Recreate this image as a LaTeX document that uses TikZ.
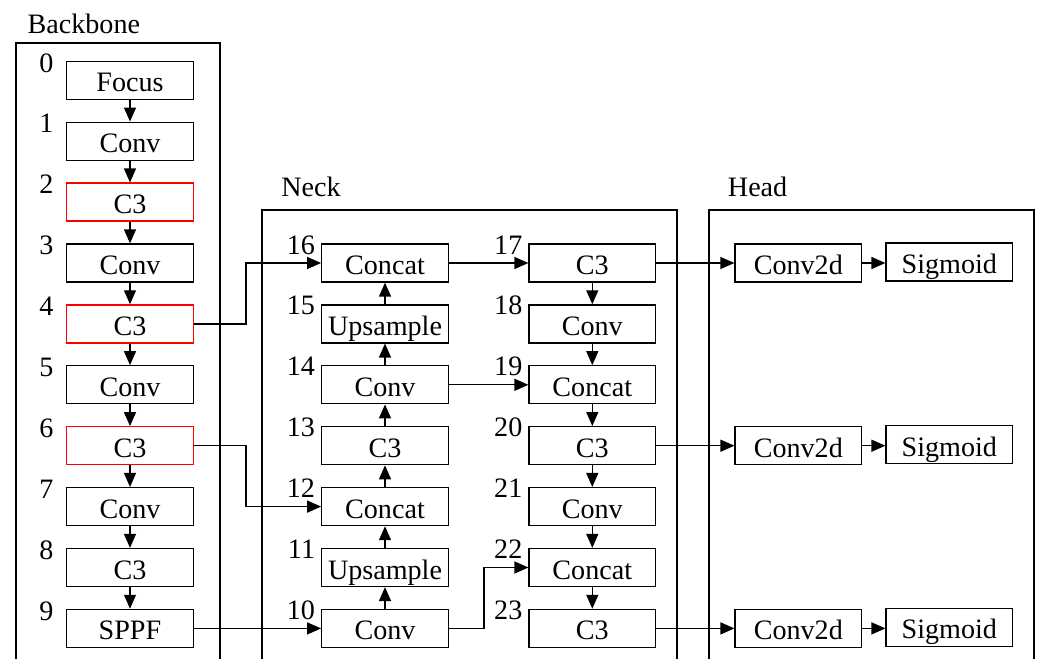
\documentclass[tikz,border=0pt]{standalone}
\usepackage{fontspec}
\setmainfont{Liberation Serif}
\usetikzlibrary{arrows.meta}
\begin{document}
\begin{tikzpicture}[x=0.02cm, y=-0.02cm, line width=0.74pt,
  blk/.style={draw, minimum width=2.53cm, minimum height=0.76cm, inner sep=0pt,
    text height=13.1pt, text depth=0pt, font=\fontsize{16}{19}\selectfont},
  redblk/.style={blk, draw=red},
  num/.style={anchor=base east, inner sep=0pt, font=\fontsize{16}{19}\selectfont},
  title/.style={anchor=base west, inner sep=0pt, font=\fontsize{16}{19}\selectfont},
  frame/.style={line width=1.3pt},
  arr/.style={-{Triangle[length=0.28cm, width=0.24cm]}}]
  \useasboundingbox (0,0) rectangle (1038,659);
  \draw[frame] (16,662) -- (16,43) -- (220,43) -- (220,662);
  \draw[frame] (262.3,662) -- (262.3,210) -- (676.7,210) -- (676.7,662);
  \draw[frame] (709.3,662) -- (709.3,210) -- (1034.3,210) -- (1034.3,662);
  \node[title] (tb) at (27,33) {Backbone};
  \node[title] (tn) at (280.7,196.7) {Neck};
  \node[title] (th) at (727.3,196.7) {Head};
  \node[blk] (b0) at (130,80.3) {Focus};
  \node[blk] (b1) at (130,141.2) {Conv};
  \node[redblk] (b2) at (130,202.1) {C3};
  \node[blk] (b3) at (130,263.0) {Conv};
  \node[redblk] (b4) at (130,323.9) {C3};
  \node[blk] (b5) at (130,384.8) {Conv};
  \node[redblk] (b6) at (130,445.7) {C3};
  \node[blk] (b7) at (130,506.6) {Conv};
  \node[blk] (b8) at (130,567.5) {C3};
  \node[blk] (b9) at (130,628.4) {SPPF};
  \node[num] (l0) at (54,72.0) {0};
  \node[num] (l1) at (54,132.9) {1};
  \node[num] (l2) at (54,193.8) {2};
  \node[num] (l3) at (54,254.7) {3};
  \node[num] (l4) at (54,315.6) {4};
  \node[num] (l5) at (54,376.5) {5};
  \node[num] (l6) at (54,437.4) {6};
  \node[num] (l7) at (54,498.3) {7};
  \node[num] (l8) at (54,559.2) {8};
  \node[num] (l9) at (54,620.1) {9};
  \node[blk] (n16) at (385,263.0) {Concat};
  \node[blk] (n15) at (385,323.9) {Upsample};
  \node[blk] (n14) at (385,384.8) {Conv};
  \node[blk] (n13) at (385,445.7) {C3};
  \node[blk] (n12) at (385,506.6) {Concat};
  \node[blk] (n11) at (385,567.5) {Upsample};
  \node[blk] (n10) at (385,628.4) {Conv};
  \node[blk] (n17) at (592.3,263.0) {C3};
  \node[blk] (n18) at (592.3,323.9) {Conv};
  \node[blk] (n19) at (592.3,384.8) {Concat};
  \node[blk] (n20) at (592.3,445.7) {C3};
  \node[blk] (n21) at (592.3,506.6) {Conv};
  \node[blk] (n22) at (592.3,567.5) {Concat};
  \node[blk] (n23) at (592.3,628.4) {C3};
  \node[num] (l16) at (315.7,254.0) {16};
  \node[num] (l15) at (315.7,314.9) {15};
  \node[num] (l14) at (315.7,375.8) {14};
  \node[num] (l13) at (315.7,436.7) {13};
  \node[num] (l12) at (315.7,497.6) {12};
  \node[num] (l11) at (315.7,558.5) {11};
  \node[num] (l10) at (315.7,619.4) {10};
  \node[num] (l17) at (523,254.0) {17};
  \node[num] (l18) at (523,314.9) {18};
  \node[num] (l19) at (523,375.8) {19};
  \node[num] (l20) at (523,436.7) {20};
  \node[num] (l21) at (523,497.6) {21};
  \node[num] (l22) at (523,558.5) {22};
  \node[num] (l23) at (523,619.4) {23};
  \node[blk] (h1) at (798.3,263.0) {Conv2d};
  \node[blk] (s1) at (949.3,262.0) {Sigmoid};
  \node[blk] (h2) at (798.3,445.7) {Conv2d};
  \node[blk] (s2) at (949.3,444.7) {Sigmoid};
  \node[blk] (h3) at (798.3,628.4) {Conv2d};
  \node[blk] (s3) at (949.3,627.4) {Sigmoid};
  \draw[arr] (b0) -- (b1);
  \draw[arr] (b1) -- (b2);
  \draw[arr] (b2) -- (b3);
  \draw[arr] (b3) -- (b4);
  \draw[arr] (b4) -- (b5);
  \draw[arr] (b5) -- (b6);
  \draw[arr] (b6) -- (b7);
  \draw[arr] (b7) -- (b8);
  \draw[arr] (b8) -- (b9);
  \draw[arr] (n10) -- (n11);
  \draw[arr] (n11) -- (n12);
  \draw[arr] (n12) -- (n13);
  \draw[arr] (n13) -- (n14);
  \draw[arr] (n14) -- (n15);
  \draw[arr] (n15) -- (n16);
  \draw[arr] (n17) -- (n18);
  \draw[arr] (n18) -- (n19);
  \draw[arr] (n19) -- (n20);
  \draw[arr] (n20) -- (n21);
  \draw[arr] (n21) -- (n22);
  \draw[arr] (n22) -- (n23);
  \draw[arr] (b4.east) -- ++(52,0) |- (n16.west);
  \draw[arr] (b6.east) -- ++(52,0) |- (n12.west);
  \draw[arr] (b9) -- (n10);
  \draw[arr] (n16) -- (n17);
  \draw[arr] (n14) -- (n19);
  \draw[arr] (n10.east) -- ++(35,0) |- (n22.west);
  \draw[arr] (n17) -- (h1);
  \draw[arr] (n20) -- (h2);
  \draw[arr] (n23) -- (h3);
  \draw[arr] (h1.east) -- (s1.west |- h1.east);
  \draw[arr] (h2.east) -- (s2.west |- h2.east);
  \draw[arr] (h3.east) -- (s3.west |- h3.east);
\end{tikzpicture}
\end{document}
